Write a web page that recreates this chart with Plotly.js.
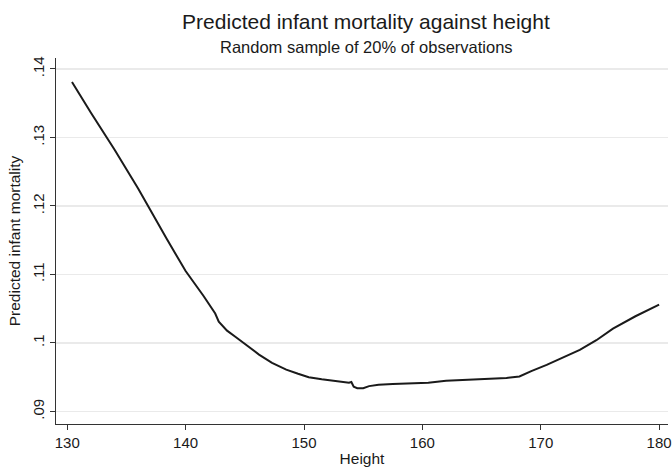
<!DOCTYPE html>
<html>
<head>
<meta charset="utf-8">
<script src="https://cdn.plot.ly/plotly-3.0.1.min.js"></script>
<style>html,body{margin:0;padding:0;background:#fff;}#chart{width:672px;height:469px;}</style>
</head>
<body>
<div id="chart"></div>
<script>
// Height (cm)
var heights = [130.4, 132.0, 134.0, 136.0, 138.4, 140.0, 141.5, 142.5, 142.8, 143.5, 144.2, 145.2, 146.2, 147.3, 148.5, 149.5, 150.4, 151.5, 152.7, 153.5, 153.8, 154.0, 154.2, 154.5, 155.0, 155.5, 156.3, 157.5, 159.2, 160.5, 162.0, 163.5, 164.8, 166.0, 167.1, 168.2, 169.2, 170.5, 171.8, 173.3, 174.7, 176.1, 178.0, 180.0];
// Predicted infant mortality
var mortality = [0.1381, 0.1336, 0.1282, 0.1225, 0.1152, 0.1105, 0.1069, 0.1043, 0.1031, 0.1018, 0.1009, 0.0996, 0.0983, 0.0971, 0.0961, 0.0955, 0.0950, 0.0947, 0.0944, 0.0943, 0.0942, 0.0943, 0.0936, 0.0934, 0.0934, 0.0937, 0.0939, 0.0940, 0.0941, 0.0942, 0.0945, 0.0946, 0.0947, 0.0948, 0.0949, 0.0951, 0.0959, 0.0968, 0.0978, 0.0990, 0.1004, 0.1021, 0.1039, 0.1056];
var xTicks = [130, 140, 150, 160, 170, 180];
var yTicks = [0.09, 0.10, 0.11, 0.12, 0.13, 0.14];
var yTickLabels = ['.09', '.1', '.11', '.12', '.13', '.14'];
var titleText = 'Predicted infant mortality against height';
var subtitleText = 'Random sample of 20% of observations';

var font = 'Liberation Sans, Arial, Helvetica, sans-serif';
var ink = '#1a1a1a';
var trace = {
  x: heights, y: mortality, type: 'scatter', mode: 'lines',
  line: {color: ink, width: 2}, hoverinfo: 'skip'
};
var layout = {
  width: 672, height: 469,
  margin: {l: 56, r: 4, t: 58, b: 45},
  paper_bgcolor: '#ffffff', plot_bgcolor: '#ffffff',
  showlegend: false,
  font: {family: font, color: ink, size: 15},
  title: {
    text: titleText,
    font: {family: font, size: 21, color: ink},
    x: 0.5446, xanchor: 'center', y: 0.953, yanchor: 'middle'
  },
  annotations: [{
    text: subtitleText, xref: 'paper', yref: 'paper',
    x: (366 - 56) / 612, y: 1 + (58 - 47.5) / 366,
    xanchor: 'center', yanchor: 'middle', showarrow: false,
    font: {family: font, size: 16.5, color: ink}
  }],
  xaxis: {
    range: [129.05, 180.75],
    tickvals: xTicks, ticktext: xTicks.map(String),
    ticks: 'outside', ticklen: 5, tickcolor: '#333', tickwidth: 1,
    showline: true, linecolor: '#333', linewidth: 1.3,
    showgrid: false, zeroline: false,
    tickfont: {family: font, size: 15, color: ink},
    title: {text: 'Height', font: {family: font, size: 15.5, color: ink}, standoff: 3}
  },
  yaxis: {
    range: [0.08817, 0.1416],
    tickvals: yTicks, ticktext: yTickLabels,
    tickangle: -90,
    ticks: 'outside', ticklen: 5, tickcolor: '#333', tickwidth: 1,
    showline: true, linecolor: '#333', linewidth: 1.3,
    showgrid: true, gridcolor: '#eaeaea', gridwidth: 1.3, zeroline: false,
    tickfont: {family: font, size: 15, color: ink},
    title: {text: 'Predicted infant mortality', font: {family: font, size: 15.5, color: ink}, standoff: 5}
  }
};
Plotly.newPlot('chart', [trace], layout, {staticPlot: true, displayModeBar: false});
</script>
</body>
</html>
